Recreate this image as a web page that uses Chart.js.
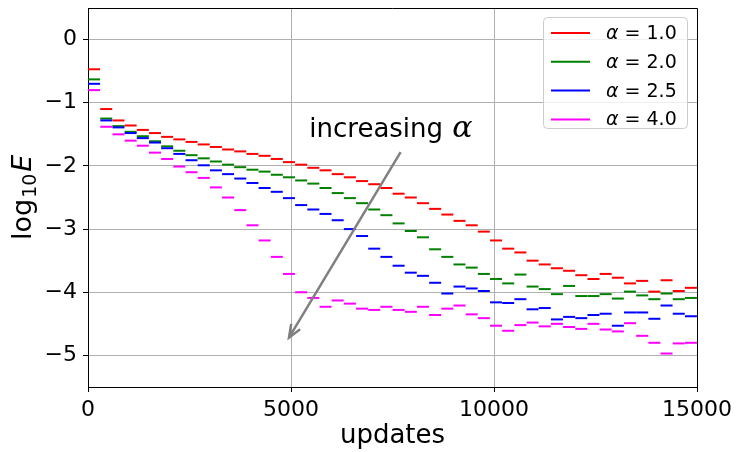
<!DOCTYPE html>
<html>
<head>
<meta charset="utf-8">
<script src="https://cdn.jsdelivr.net/npm/chart.js@4/dist/chart.umd.min.js"></script>
<style>
  html, body { margin: 0; padding: 0; background: #fff; }
  #wrap { width: 738px; height: 452px; }
</style>
</head>
<body>
<div id="wrap"><canvas id="errChart" width="738" height="452"></canvas></div>
<script>
// updates at which each error level is recorded (middle of each 300-update window)
const updates = [150, 450, 750, 1050, 1350, 1650, 1950, 2250, 2550, 2850,
  3150, 3450, 3750, 4050, 4350, 4650, 4950, 5250, 5550, 5850,
  6150, 6450, 6750, 7050, 7350, 7650, 7950, 8250, 8550, 8850,
  9150, 9450, 9750, 10050, 10350, 10650, 10950, 11250, 11550, 11850,
  12150, 12450, 12750, 13050, 13350, 13650, 13950, 14250, 14550, 14850];

// log10 of the error for each alpha
const errAlpha10 = [-0.47, -1.10, -1.28, -1.36, -1.43, -1.48, -1.54, -1.58, -1.62, -1.66,
  -1.70, -1.74, -1.77, -1.81, -1.84, -1.89, -1.94, -1.98, -2.03, -2.07,
  -2.13, -2.18, -2.24, -2.29, -2.35, -2.44, -2.50, -2.59, -2.68, -2.77,
  -2.87, -2.94, -3.04, -3.18, -3.31, -3.37, -3.50, -3.56, -3.62, -3.66,
  -3.73, -3.79, -3.71, -3.77, -3.86, -3.82, -3.99, -3.81, -3.98, -3.93];
const errAlpha20 = [-0.63, -1.25, -1.37, -1.46, -1.53, -1.61, -1.69, -1.76, -1.83, -1.88,
  -1.93, -1.98, -2.02, -2.06, -2.09, -2.14, -2.18, -2.23, -2.28, -2.35,
  -2.43, -2.51, -2.59, -2.69, -2.78, -2.91, -3.03, -3.13, -3.32, -3.44,
  -3.56, -3.61, -3.71, -3.79, -3.86, -3.72, -3.91, -3.95, -4.03, -3.90,
  -4.06, -4.06, -4.03, -4.10, -3.99, -4.05, -4.11, -4.02, -4.11, -4.09];
const errAlpha25 = [-0.70, -1.28, -1.39, -1.48, -1.56, -1.63, -1.72, -1.81, -1.91, -1.99,
  -2.07, -2.13, -2.20, -2.27, -2.35, -2.41, -2.51, -2.62, -2.69, -2.76,
  -2.86, -3.00, -3.11, -3.31, -3.44, -3.58, -3.69, -3.74, -3.85, -4.02,
  -3.91, -3.94, -3.98, -4.16, -4.17, -4.11, -4.27, -4.25, -4.43, -4.39,
  -4.41, -4.36, -4.34, -4.53, -4.32, -4.32, -4.42, -4.21, -4.34, -4.38];
const errAlpha40 = [-0.80, -1.38, -1.50, -1.60, -1.68, -1.79, -1.89, -2.01, -2.10, -2.19,
  -2.34, -2.50, -2.70, -2.94, -3.18, -3.44, -3.71, -4.00, -4.09, -4.23,
  -4.13, -4.18, -4.26, -4.28, -4.23, -4.28, -4.31, -4.23, -4.36, -4.26,
  -4.21, -4.35, -4.41, -4.53, -4.61, -4.52, -4.48, -4.54, -4.50, -4.55,
  -4.58, -4.50, -4.59, -4.62, -4.49, -4.69, -4.80, -4.97, -4.81, -4.80];

const alphaLabels = ['1.0', '2.0', '2.5', '4.0'];
const seriesColors = ['#ff0000', '#008000', '#0000ff', '#ff00ff'];
const xTicks = [0, 5000, 10000, 15000];
const yTicks = [0, -1, -2, -3, -4, -5];

// arrow from the upper right down towards larger alpha
const arrowFrom = { x: 7700, y: -1.78 };
const arrowTo = { x: 4950, y: -4.72 };
const noteAt = { x: 5450, y: -1.55 };

const SANS = '"DejaVu Sans", sans-serif';

const seriesValues = [errAlpha10, errAlpha20, errAlpha25, errAlpha40];
const datasets = seriesValues.map((vals, i) => ({
  label: 'α = ' + alphaLabels[i],
  data: updates.map((u, j) => ({ x: u, y: vals[j] })),
  showLine: false,
  pointStyle: 'line',
  pointRadius: 6,
  pointHoverRadius: 6,
  borderWidth: 2,
  borderColor: seriesColors[i],
  backgroundColor: seriesColors[i],
  order: seriesValues.length - i
}));

// frame, axis titles, legend box and the arrow annotation
const decorations = {
  id: 'decorations',
  afterDraw(chart) {
    const ctx = chart.ctx;
    const a = chart.chartArea;
    const xs = chart.scales.x, ys = chart.scales.y;
    ctx.save();

    // top and right spines
    ctx.strokeStyle = '#000';
    ctx.lineWidth = 1;
    ctx.beginPath();
    ctx.moveTo(a.left, a.top + 0.5);
    ctx.lineTo(a.right + 0.5, a.top + 0.5);
    ctx.lineTo(a.right + 0.5, a.bottom);
    ctx.stroke();

    // arrow
    const x0 = xs.getPixelForValue(arrowFrom.x), y0 = ys.getPixelForValue(arrowFrom.y);
    const x1 = xs.getPixelForValue(arrowTo.x), y1 = ys.getPixelForValue(arrowTo.y);
    ctx.strokeStyle = '#808080';
    ctx.lineWidth = 2.5;
    ctx.lineCap = 'butt';
    ctx.beginPath();
    ctx.moveTo(x0, y0);
    ctx.lineTo(x1, y1);
    ctx.stroke();
    const ang = Math.atan2(y1 - y0, x1 - x0);
    const head = 14, spread = 0.38;
    ctx.beginPath();
    ctx.moveTo(x1 - head * Math.cos(ang - spread), y1 - head * Math.sin(ang - spread));
    ctx.lineTo(x1, y1);
    ctx.lineTo(x1 - head * Math.cos(ang + spread), y1 - head * Math.sin(ang + spread));
    ctx.stroke();

    // annotation text
    ctx.fillStyle = '#000';
    ctx.textBaseline = 'alphabetic';
    ctx.textAlign = 'left';
    const nx = xs.getPixelForValue(noteAt.x), ny = ys.getPixelForValue(noteAt.y);
    ctx.font = '26px ' + SANS;
    ctx.fillText('increasing ', nx, ny);
    const w = ctx.measureText('increasing ').width;
    ctx.font = 'italic 30px "DejaVu Serif", serif';
    ctx.fillText('α', nx + w + 1, ny);

    // x axis title
    ctx.font = '26px ' + SANS;
    ctx.textAlign = 'center';
    ctx.fillText('updates', (a.left + a.right) / 2, 443);

    // y axis title: log_10 E
    ctx.save();
    ctx.translate(31, 240);
    ctx.rotate(-Math.PI / 2);
    ctx.textAlign = 'left';
    ctx.font = '27px ' + SANS;
    ctx.fillText('log', 0, 0);
    let px = ctx.measureText('log').width + 1;
    ctx.font = '19px ' + SANS;
    ctx.fillText('10', px, 5);
    px += ctx.measureText('10').width + 2;
    ctx.font = 'italic 27px ' + SANS;
    ctx.fillText('E', px, 0);
    ctx.restore();

    // legend
    const bx = 543, by = 17, bw = 144, bh = 111, r = 4;
    ctx.fillStyle = 'rgba(255,255,255,0.8)';
    ctx.strokeStyle = '#cccccc';
    ctx.lineWidth = 1;
    ctx.beginPath();
    ctx.roundRect(bx + 0.5, by + 0.5, bw, bh, r);
    ctx.fill();
    ctx.stroke();
    datasets.forEach((ds, i) => {
      const ly = 33 + i * 28.8;
      ctx.strokeStyle = ds.borderColor;
      ctx.lineWidth = 2;
      ctx.beginPath();
      ctx.moveTo(551, ly);
      ctx.lineTo(590, ly);
      ctx.stroke();
      ctx.fillStyle = '#000';
      ctx.textAlign = 'left';
      ctx.textBaseline = 'middle';
      ctx.font = 'italic 19px ' + SANS;
      ctx.fillText('α', 606, ly + 1);
      const aw = ctx.measureText('α').width;
      ctx.font = '19px ' + SANS;
      ctx.fillText(' = ' + alphaLabels[i], 606 + aw, ly + 1);
    });

    ctx.restore();
  }
};

new Chart(document.getElementById('errChart').getContext('2d'), {
  type: 'scatter',
  data: { datasets },
  plugins: [decorations],
  options: {
    responsive: false,
    animation: false,
    events: [],
    layout: { padding: { top: 7, right: 41, left: 0, bottom: 0 } },
    plugins: { legend: { display: false }, tooltip: { enabled: false } },
    scales: {
      x: {
        type: 'linear',
        min: 0,
        max: 15000,
        afterBuildTicks: (s) => { s.ticks = xTicks.map(v => ({ value: v })); },
        afterFit: (s) => { s.height = 65; s.paddingLeft = 0; s.paddingRight = 0; },
        grid: { color: '#b0b0b0', lineWidth: 1, tickLength: 5, tickColor: '#000' },
        border: { color: '#000', width: 1 },
        ticks: {
          color: '#000',
          font: { family: SANS, size: 22 },
          padding: 5,
          maxRotation: 0,
          callback: (v) => String(v)
        }
      },
      y: {
        type: 'linear',
        min: -5.5,
        max: 0.5,
        afterBuildTicks: (s) => { s.ticks = yTicks.map(v => ({ value: v })); },
        afterFit: (s) => { s.width = 88; s.paddingTop = 0; s.paddingBottom = 0; },
        grid: { color: '#b0b0b0', lineWidth: 1, tickLength: 5, tickColor: '#000' },
        border: { color: '#000', width: 1 },
        ticks: {
          color: '#000',
          font: { family: SANS, size: 22 },
          padding: 6,
          callback: (v) => (v < 0 ? '\u2212' + Math.abs(v) : String(v))
        }
      }
    }
  }
});
</script>
</body>
</html>
